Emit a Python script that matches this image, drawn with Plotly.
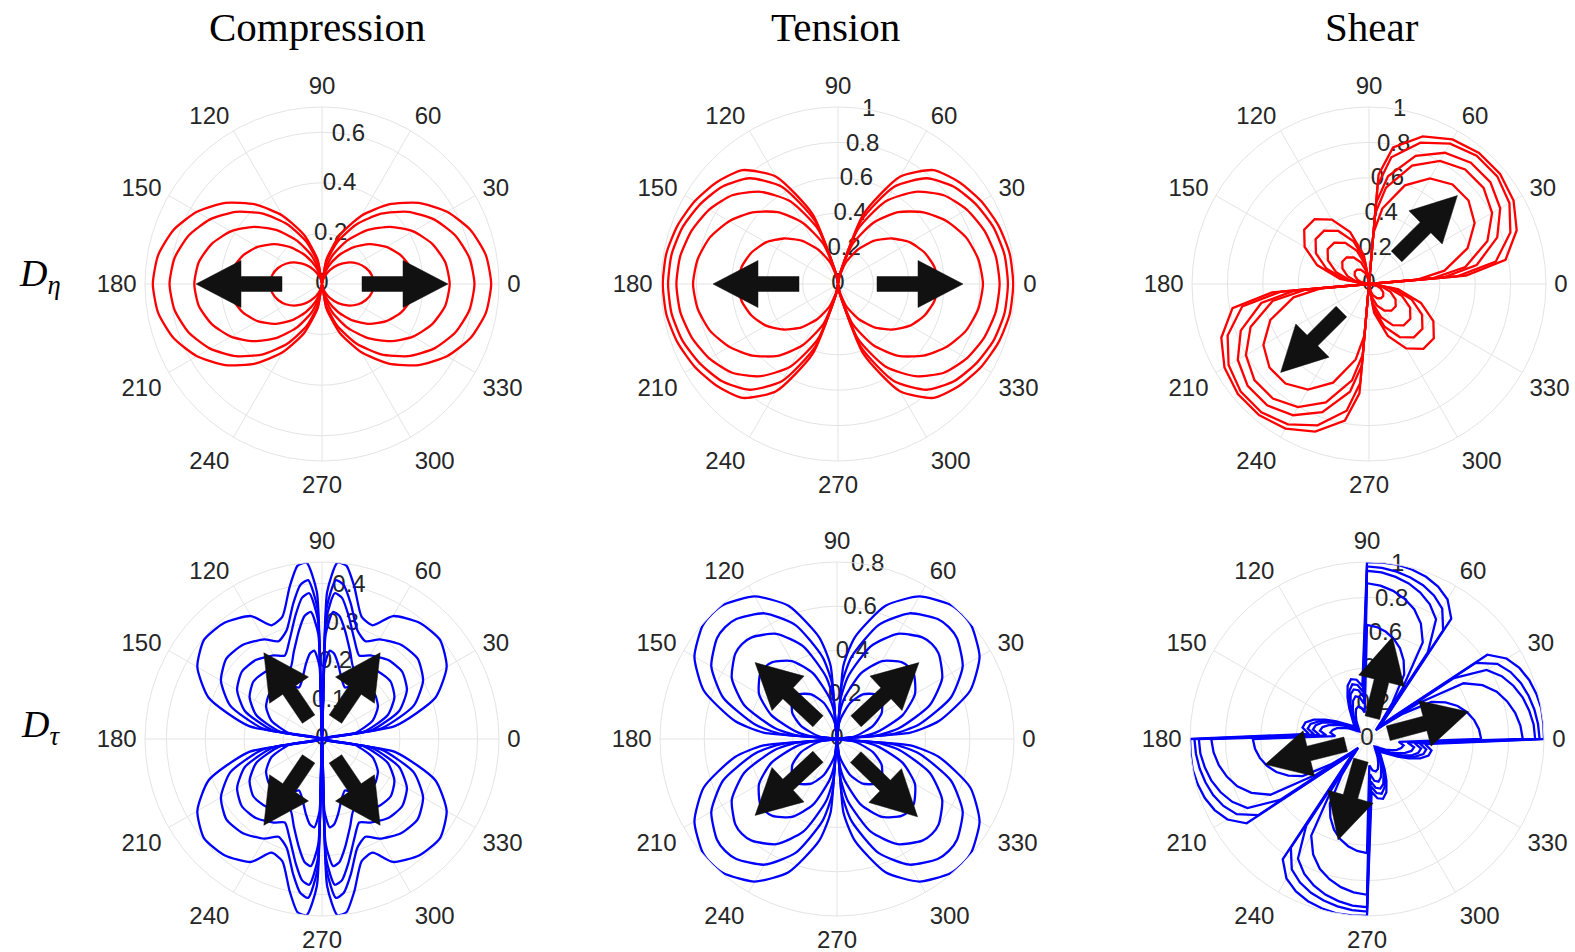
import math
import plotly.graph_objects as go

# ---------------- text ----------------
COL_TITLES = ["Compression", "Tension", "Shear"]
ROW_LABELS = ["<i>D</i><sub><i>η</i></sub>", "<i>D</i><sub><i>τ</i></sub>"]
ANG_TICKS = [0, 30, 60, 90, 120, 150, 180, 210, 240, 270, 300, 330]

# ---------------- data: angles (deg) ----------------
THETA_A = [0, 10, 20, 30, 40, 50, 60, 70, 80, 90, 100, 110, 120, 130, 140, 150, 160, 170, 180,
           190, 200, 210, 220, 230, 240, 250, 260, 270, 280, 290, 300, 310, 320, 330, 340, 350, 360]
THETA_B = THETA_A
THETA_C = [0, 5, 10, 20, 30, 40, 50, 60, 70, 80, 85, 90, 100, 110, 120, 130, 140, 150, 160, 170, 180,
           185, 190, 200, 210, 220, 230, 240, 250, 260, 265, 270, 280, 290, 300, 310, 320, 330, 340, 350, 360]
THETA_D = [0, 10, 20, 30, 40, 50, 60, 66, 72, 78, 82, 85, 88, 90,
           92, 95, 98, 102, 108, 114, 120, 130, 140, 150, 160, 170, 180,
           190, 200, 210, 220, 230, 240, 246, 252, 258, 262, 265, 268, 270,
           272, 275, 278, 282, 288, 294, 300, 310, 320, 330, 340, 350, 360]
THETA_E = [0, 5, 10, 20, 30, 40, 45, 50, 60, 70, 80, 85, 90,
           95, 100, 110, 120, 130, 135, 140, 150, 160, 170, 175, 180,
           185, 190, 200, 210, 220, 225, 230, 240, 250, 260, 265, 270,
           275, 280, 290, 300, 310, 315, 320, 330, 340, 350, 355, 360]
THETA_F = [0, 5, 10, 15, 20, 25, 30, 35, 40, 45, 50, 55, 60, 65, 70, 75, 80, 85, 90,
           95, 100, 105, 110, 115, 120, 125, 130, 135, 140, 145, 150, 155, 160, 165, 170, 175, 180,
           185, 190, 195, 200, 205, 210, 215, 220, 225, 230, 235, 240, 245, 250, 255, 260, 265, 270,
           275, 280, 285, 290, 295, 300, 305, 310, 315, 320, 325, 330, 335, 340, 345, 350, 355, 360]

# ---------------- data: Compression D_eta ----------------
A1 = [0.205, 0.200, 0.185, 0.162, 0.132, 0.099, 0.065, 0.035, 0.011, 0, 0.011, 0.035, 0.065, 0.099, 0.132, 0.162, 0.185, 0.200, 0.205,
      0.200, 0.185, 0.162, 0.132, 0.099, 0.065, 0.035, 0.011, 0, 0.011, 0.035, 0.065, 0.099, 0.132, 0.162, 0.185, 0.200, 0.205]
A2 = [0.365, 0.357, 0.332, 0.294, 0.245, 0.188, 0.129, 0.073, 0.026, 0, 0.026, 0.073, 0.129, 0.188, 0.245, 0.294, 0.332, 0.357, 0.365,
      0.357, 0.332, 0.294, 0.245, 0.188, 0.129, 0.073, 0.026, 0, 0.026, 0.073, 0.129, 0.188, 0.245, 0.294, 0.332, 0.357, 0.365]
A3 = [0.505, 0.495, 0.464, 0.416, 0.352, 0.278, 0.198, 0.119, 0.047, 0, 0.047, 0.119, 0.198, 0.278, 0.352, 0.416, 0.464, 0.495, 0.505,
      0.495, 0.464, 0.416, 0.352, 0.278, 0.198, 0.119, 0.047, 0, 0.047, 0.119, 0.198, 0.278, 0.352, 0.416, 0.464, 0.495, 0.505]
A4 = [0.603, 0.592, 0.561, 0.511, 0.444, 0.363, 0.272, 0.176, 0.080, 0, 0.080, 0.176, 0.272, 0.363, 0.444, 0.511, 0.561, 0.592, 0.603,
      0.592, 0.561, 0.511, 0.444, 0.363, 0.272, 0.176, 0.080, 0, 0.080, 0.176, 0.272, 0.363, 0.444, 0.511, 0.561, 0.592, 0.603]
A5 = [0.669, 0.658, 0.625, 0.571, 0.499, 0.411, 0.312, 0.206, 0.097, 0, 0.097, 0.206, 0.312, 0.411, 0.499, 0.571, 0.625, 0.658, 0.669,
      0.658, 0.625, 0.571, 0.499, 0.411, 0.312, 0.206, 0.097, 0, 0.097, 0.206, 0.312, 0.411, 0.499, 0.571, 0.625, 0.658, 0.669]

# ---------------- data: Tension D_eta ----------------
B1 = [0.565, 0.553, 0.52, 0.47, 0.40, 0.32, 0.225, 0.13, 0.035, 0, 0.035, 0.13, 0.225, 0.32, 0.40, 0.47, 0.52, 0.553, 0.565,
      0.553, 0.52, 0.47, 0.40, 0.32, 0.225, 0.13, 0.035, 0, 0.035, 0.13, 0.225, 0.32, 0.40, 0.47, 0.52, 0.553, 0.565]
B2 = [0.819, 0.805, 0.77, 0.71, 0.63, 0.53, 0.40, 0.24, 0.05, 0, 0.05, 0.24, 0.40, 0.53, 0.63, 0.71, 0.77, 0.805, 0.819,
      0.805, 0.77, 0.71, 0.63, 0.53, 0.40, 0.24, 0.05, 0, 0.05, 0.24, 0.40, 0.53, 0.63, 0.71, 0.77, 0.805, 0.819]
B3 = [0.913, 0.905, 0.88, 0.84, 0.78, 0.68, 0.54, 0.33, 0.05, 0, 0.05, 0.33, 0.54, 0.68, 0.78, 0.84, 0.88, 0.905, 0.913,
      0.905, 0.88, 0.84, 0.78, 0.68, 0.54, 0.33, 0.05, 0, 0.05, 0.33, 0.54, 0.68, 0.78, 0.84, 0.88, 0.905, 0.913]
B4 = [0.96, 0.955, 0.935, 0.90, 0.855, 0.78, 0.635, 0.38, 0.05, 0, 0.05, 0.38, 0.635, 0.78, 0.855, 0.90, 0.935, 0.955, 0.96,
      0.955, 0.935, 0.90, 0.855, 0.78, 0.635, 0.38, 0.05, 0, 0.05, 0.38, 0.635, 0.78, 0.855, 0.90, 0.935, 0.955, 0.96]
B5 = [0.99, 0.985, 0.965, 0.935, 0.895, 0.84, 0.70, 0.42, 0.05, 0, 0.05, 0.42, 0.70, 0.84, 0.895, 0.935, 0.965, 0.985, 0.99,
      0.985, 0.965, 0.935, 0.895, 0.84, 0.70, 0.42, 0.05, 0, 0.05, 0.42, 0.70, 0.84, 0.895, 0.935, 0.965, 0.985, 0.99]

# ---------------- data: Shear D_eta ----------------
C1 = [0, 0.27, 0.433, 0.593, 0.689, 0.734, 0.734, 0.689, 0.593, 0.433, 0.29, 0,
      0.037, 0.069, 0.093, 0.105, 0.105, 0.093, 0.069, 0.037, 0,
      0.27, 0.433, 0.593, 0.689, 0.734, 0.734, 0.689, 0.593, 0.433, 0.29, 0,
      0.037, 0.069, 0.093, 0.105, 0.105, 0.093, 0.069, 0.037, 0]
C2 = [0, 0.36, 0.553, 0.712, 0.803, 0.845, 0.845, 0.803, 0.712, 0.553, 0.40, 0,
      0.068, 0.129, 0.173, 0.197, 0.197, 0.173, 0.129, 0.068, 0,
      0.36, 0.553, 0.712, 0.803, 0.845, 0.845, 0.803, 0.712, 0.553, 0.40, 0,
      0.068, 0.129, 0.173, 0.197, 0.197, 0.173, 0.129, 0.068, 0]
C3 = [0, 0.42, 0.618, 0.771, 0.856, 0.895, 0.895, 0.856, 0.771, 0.618, 0.46, 0,
      0.106, 0.199, 0.268, 0.305, 0.305, 0.268, 0.199, 0.106, 0,
      0.42, 0.618, 0.771, 0.856, 0.895, 0.895, 0.856, 0.771, 0.618, 0.46, 0,
      0.106, 0.199, 0.268, 0.305, 0.305, 0.268, 0.199, 0.106, 0]
C4 = [0, 0.50, 0.727, 0.850, 0.916, 0.946, 0.946, 0.916, 0.850, 0.727, 0.56, 0,
      0.137, 0.257, 0.346, 0.394, 0.394, 0.346, 0.257, 0.137, 0,
      0.50, 0.727, 0.850, 0.916, 0.946, 0.946, 0.916, 0.850, 0.727, 0.56, 0,
      0.137, 0.257, 0.346, 0.394, 0.394, 0.346, 0.257, 0.137, 0]
C5 = [0, 0.55, 0.783, 0.888, 0.943, 0.967, 0.967, 0.943, 0.888, 0.783, 0.62, 0,
      0.166, 0.312, 0.420, 0.478, 0.478, 0.420, 0.312, 0.166, 0,
      0.55, 0.783, 0.888, 0.943, 0.967, 0.967, 0.943, 0.888, 0.783, 0.62, 0,
      0.166, 0.312, 0.420, 0.478, 0.478, 0.420, 0.312, 0.166, 0]

# ---------------- data: Compression D_tau ----------------
D1 = [0, 0.085, 0.139, 0.166, 0.178, 0.175, 0.16, 0.145, 0.163, 0.198, 0.222, 0.228, 0.187, 0,
      0.187, 0.228, 0.222, 0.198, 0.163, 0.145, 0.16, 0.175, 0.178, 0.166, 0.139, 0.085, 0,
      0.085, 0.139, 0.166, 0.178, 0.175, 0.16, 0.145, 0.163, 0.198, 0.222, 0.228, 0.187, 0,
      0.187, 0.228, 0.222, 0.198, 0.163, 0.145, 0.16, 0.175, 0.178, 0.166, 0.139, 0.085, 0]
D2 = [0, 0.110, 0.180, 0.215, 0.230, 0.226, 0.212, 0.20, 0.235, 0.285, 0.32, 0.328, 0.269, 0,
      0.269, 0.328, 0.32, 0.285, 0.235, 0.20, 0.212, 0.226, 0.230, 0.215, 0.180, 0.110, 0,
      0.110, 0.180, 0.215, 0.230, 0.226, 0.212, 0.20, 0.235, 0.285, 0.32, 0.328, 0.269, 0,
      0.269, 0.328, 0.32, 0.285, 0.235, 0.20, 0.212, 0.226, 0.230, 0.215, 0.180, 0.110, 0]
D3 = [0, 0.129, 0.211, 0.252, 0.269, 0.265, 0.248, 0.235, 0.269, 0.326, 0.367, 0.376, 0.308, 0,
      0.308, 0.376, 0.367, 0.326, 0.269, 0.235, 0.248, 0.265, 0.269, 0.252, 0.211, 0.129, 0,
      0.129, 0.211, 0.252, 0.269, 0.265, 0.248, 0.235, 0.269, 0.326, 0.367, 0.376, 0.308, 0,
      0.308, 0.376, 0.367, 0.326, 0.269, 0.235, 0.248, 0.265, 0.269, 0.252, 0.211, 0.129, 0]
D4 = [0, 0.154, 0.251, 0.30, 0.321, 0.316, 0.296, 0.275, 0.294, 0.356, 0.40, 0.41, 0.336, 0,
      0.336, 0.41, 0.40, 0.356, 0.294, 0.275, 0.296, 0.316, 0.321, 0.30, 0.251, 0.154, 0,
      0.154, 0.251, 0.30, 0.321, 0.316, 0.296, 0.275, 0.294, 0.356, 0.40, 0.41, 0.336, 0,
      0.336, 0.41, 0.40, 0.356, 0.294, 0.275, 0.296, 0.316, 0.321, 0.30, 0.251, 0.154, 0]
D5 = [0, 0.19, 0.31, 0.37, 0.396, 0.39, 0.365, 0.32, 0.33, 0.40, 0.45, 0.455, 0.378, 0,
      0.378, 0.455, 0.45, 0.40, 0.33, 0.32, 0.365, 0.39, 0.396, 0.37, 0.31, 0.19, 0,
      0.19, 0.31, 0.37, 0.396, 0.39, 0.365, 0.32, 0.33, 0.40, 0.45, 0.455, 0.378, 0,
      0.378, 0.455, 0.45, 0.40, 0.33, 0.32, 0.365, 0.39, 0.396, 0.37, 0.31, 0.19, 0]

# ---------------- data: Tension D_tau ----------------
E1 = [0, 0.047, 0.092, 0.173, 0.233, 0.265, 0.269, 0.265, 0.233, 0.173, 0.092, 0.047, 0,
      0.047, 0.092, 0.173, 0.233, 0.265, 0.269, 0.265, 0.233, 0.173, 0.092, 0.047, 0,
      0.047, 0.092, 0.173, 0.233, 0.265, 0.269, 0.265, 0.233, 0.173, 0.092, 0.047, 0,
      0.047, 0.092, 0.173, 0.233, 0.265, 0.269, 0.265, 0.233, 0.173, 0.092, 0.047, 0]
E2 = [0, 0.104, 0.185, 0.316, 0.407, 0.454, 0.46, 0.454, 0.407, 0.316, 0.185, 0.104, 0,
      0.104, 0.185, 0.316, 0.407, 0.454, 0.46, 0.454, 0.407, 0.316, 0.185, 0.104, 0,
      0.104, 0.185, 0.316, 0.407, 0.454, 0.46, 0.454, 0.407, 0.316, 0.185, 0.104, 0,
      0.104, 0.185, 0.316, 0.407, 0.454, 0.46, 0.454, 0.407, 0.316, 0.185, 0.104, 0]
E3 = [0, 0.178, 0.286, 0.446, 0.549, 0.600, 0.607, 0.600, 0.549, 0.446, 0.286, 0.178, 0,
      0.178, 0.286, 0.446, 0.549, 0.600, 0.607, 0.600, 0.549, 0.446, 0.286, 0.178, 0,
      0.178, 0.286, 0.446, 0.549, 0.600, 0.607, 0.600, 0.549, 0.446, 0.286, 0.178, 0,
      0.178, 0.286, 0.446, 0.549, 0.600, 0.607, 0.600, 0.549, 0.446, 0.286, 0.178, 0]
E4 = [0, 0.250, 0.376, 0.548, 0.656, 0.708, 0.715, 0.708, 0.656, 0.548, 0.376, 0.250, 0,
      0.250, 0.376, 0.548, 0.656, 0.708, 0.715, 0.708, 0.656, 0.548, 0.376, 0.250, 0,
      0.250, 0.376, 0.548, 0.656, 0.708, 0.715, 0.708, 0.656, 0.548, 0.376, 0.250, 0,
      0.250, 0.376, 0.548, 0.656, 0.708, 0.715, 0.708, 0.656, 0.548, 0.376, 0.250, 0]
E5 = [0, 0.333, 0.468, 0.641, 0.744, 0.794, 0.80, 0.794, 0.744, 0.641, 0.468, 0.333, 0,
      0.333, 0.468, 0.641, 0.744, 0.794, 0.80, 0.794, 0.744, 0.641, 0.468, 0.333, 0,
      0.333, 0.468, 0.641, 0.744, 0.794, 0.80, 0.794, 0.744, 0.641, 0.468, 0.333, 0,
      0.333, 0.468, 0.641, 0.744, 0.794, 0.80, 0.794, 0.744, 0.641, 0.468, 0.333, 0]

# ---------------- data: Shear D_tau ----------------
F1 = [0.645, 0.635, 0.615, 0.585, 0.545, 0.49, 0.42, 0.25, 0.12, 0.07, 0.12, 0.25, 0.42, 0.49, 0.545, 0.585, 0.615, 0.635, 0.645,
      0.15, 0.18, 0.19, 0.18, 0.15, 0.12, 0.09, 0.07, 0.06, 0.07, 0.09, 0.12, 0.15, 0.18, 0.2, 0.21, 0.18, 0.645,
      0.635, 0.615, 0.585, 0.545, 0.49, 0.42, 0.25, 0.12, 0.07, 0.12, 0.25, 0.42, 0.49, 0.545, 0.585, 0.615, 0.635, 0.645,
      0.15, 0.18, 0.19, 0.18, 0.15, 0.12, 0.09, 0.07, 0.06, 0.07, 0.09, 0.12, 0.15, 0.18, 0.2, 0.21, 0.18, 0.645]
F2 = [0.88, 0.87, 0.85, 0.82, 0.78, 0.72, 0.63, 0.35, 0.14, 0.08, 0.14, 0.35, 0.63, 0.72, 0.78, 0.82, 0.85, 0.87, 0.88,
      0.2, 0.24, 0.25, 0.23, 0.19, 0.15, 0.11, 0.09, 0.07, 0.09, 0.11, 0.15, 0.19, 0.23, 0.26, 0.27, 0.23, 0.88,
      0.87, 0.85, 0.82, 0.78, 0.72, 0.63, 0.35, 0.14, 0.08, 0.14, 0.35, 0.63, 0.72, 0.78, 0.82, 0.85, 0.87, 0.88,
      0.2, 0.24, 0.25, 0.23, 0.19, 0.15, 0.11, 0.09, 0.07, 0.09, 0.11, 0.15, 0.19, 0.23, 0.26, 0.27, 0.23, 0.88]
F3 = [0.95, 0.945, 0.93, 0.91, 0.88, 0.84, 0.78, 0.6, 0.16, 0.09, 0.16, 0.6, 0.78, 0.84, 0.88, 0.91, 0.93, 0.945, 0.95,
      0.24, 0.28, 0.29, 0.27, 0.22, 0.17, 0.13, 0.1, 0.08, 0.1, 0.13, 0.17, 0.22, 0.27, 0.30, 0.31, 0.27, 0.95,
      0.945, 0.93, 0.91, 0.88, 0.84, 0.78, 0.6, 0.16, 0.09, 0.16, 0.6, 0.78, 0.84, 0.88, 0.91, 0.93, 0.945, 0.95,
      0.24, 0.28, 0.29, 0.27, 0.22, 0.17, 0.13, 0.1, 0.08, 0.1, 0.13, 0.17, 0.22, 0.27, 0.30, 0.31, 0.27, 0.95]
F4 = [0.975, 0.97, 0.96, 0.945, 0.925, 0.895, 0.85, 0.75, 0.18, 0.1, 0.18, 0.75, 0.85, 0.895, 0.925, 0.945, 0.96, 0.97, 0.975,
      0.27, 0.31, 0.32, 0.29, 0.24, 0.18, 0.14, 0.11, 0.09, 0.11, 0.14, 0.18, 0.24, 0.29, 0.33, 0.34, 0.30, 0.975,
      0.97, 0.96, 0.945, 0.925, 0.895, 0.85, 0.75, 0.18, 0.1, 0.18, 0.75, 0.85, 0.895, 0.925, 0.945, 0.96, 0.97, 0.975,
      0.27, 0.31, 0.32, 0.29, 0.24, 0.18, 0.14, 0.11, 0.09, 0.11, 0.14, 0.18, 0.24, 0.29, 0.33, 0.34, 0.30, 0.975]
F5 = [1.0, 1.0, 1.0, 0.99, 0.975, 0.95, 0.91, 0.83, 0.2, 0.1, 0.2, 0.83, 0.91, 0.95, 0.975, 0.99, 1.0, 1.0, 1.0,
      0.30, 0.34, 0.35, 0.32, 0.26, 0.2, 0.15, 0.12, 0.1, 0.12, 0.15, 0.2, 0.26, 0.32, 0.36, 0.37, 0.33, 1.0,
      1.0, 1.0, 0.99, 0.975, 0.95, 0.91, 0.83, 0.2, 0.1, 0.2, 0.83, 0.91, 0.95, 0.975, 0.99, 1.0, 1.0, 1.0,
      0.30, 0.34, 0.35, 0.32, 0.26, 0.2, 0.15, 0.12, 0.1, 0.12, 0.15, 0.2, 0.26, 0.32, 0.36, 0.37, 0.33, 1.0]

# radial ticks per panel
RTICKS_A = [0, 0.2, 0.4, 0.6]
RTICKS_B = [0, 0.2, 0.4, 0.6, 0.8, 1]
RTICKS_C = [0, 0.2, 0.4, 0.6, 0.8, 1]
RTICKS_D = [0, 0.1, 0.2, 0.3, 0.4]
RTICKS_E = [0, 0.2, 0.4, 0.6, 0.8]
RTICKS_F = [0, 0.2, 0.4, 0.6, 0.8, 1]

# arrow directions (deg) per panel
ARROWS_A = [0, 180]
ARROWS_B = [0, 180]
ARROWS_C = [45, 225]
ARROWS_D = [56, 124, 236, 304]
ARROWS_E = [43, 137, 223, 316]
ARROWS_F = [76, 15, 194, 254]

# ---------------- layout / style ----------------
W, H = 1575, 952
RPX = 177  # polar radius in px
RED, BLUE = "#ff0000", "#0000ff"
GRID = "#e4e4e4"
TXT = "#262626"
SANS = "Liberation Sans, Arial, Helvetica, sans-serif"
SERIF = "Liberation Serif, Times New Roman, serif"
TICK_SIZE = 24

PANELS = [
    dict(cx=322, cy=284, rmax=0.70, theta=THETA_A, curves=[A1, A2, A3, A4, A5], color=RED,
         rticks=RTICKS_A, arrows=ARROWS_A, a_start=40, a_tip=126, shape="spline"),
    dict(cx=838, cy=284, rmax=1.0, theta=THETA_B, curves=[B1, B2, B3, B4, B5], color=RED,
         rticks=RTICKS_B, arrows=ARROWS_B, a_start=39, a_tip=125, shape="spline"),
    dict(cx=1369, cy=284, rmax=1.0, theta=THETA_C, curves=[C1, C2, C3, C4, C5], color=RED,
         rticks=RTICKS_C, arrows=ARROWS_C, a_start=39, a_tip=125, shape="linear"),
    dict(cx=322, cy=739, rmax=0.455, theta=THETA_D, curves=[D1, D2, D3, D4, D5], color=BLUE,
         rticks=RTICKS_D, arrows=ARROWS_D, a_start=24, a_tip=104, shape="spline"),
    dict(cx=837, cy=739, rmax=0.8, theta=THETA_E, curves=[E1, E2, E3, E4, E5], color=BLUE,
         rticks=RTICKS_E, arrows=ARROWS_E, a_start=26, a_tip=112, shape="spline"),
    dict(cx=1367, cy=739, rmax=1.0, theta=THETA_F, curves=[F1, F2, F3, F4, F5], color=BLUE,
         rticks=RTICKS_F, arrows=ARROWS_F, a_start=22, a_tip=105, shape="linear"),
]
HEAD_LEN, HEAD_HALF, SHAFT_HALF = 45, 23.5, 7.5


def fmt(v):
    return "0" if v == 0 else ("%g" % v)


def arrow_poly(angle, start, tip, scale):
    a = math.radians(angle)
    ux, uy = math.cos(a), math.sin(a)
    nx, ny = -uy, ux
    base = tip - HEAD_LEN
    pts = [(start, SHAFT_HALF), (base, SHAFT_HALF), (base, HEAD_HALF), (tip, 0),
           (base, -HEAD_HALF), (base, -SHAFT_HALF), (start, -SHAFT_HALF), (start, SHAFT_HALF)]
    rr, tt = [], []
    for along, across in pts:
        x = (along * ux + across * nx) * scale
        y = (along * uy + across * ny) * scale
        rr.append(math.hypot(x, y))
        tt.append(math.degrees(math.atan2(y, x)))
    return rr, tt


fig = go.Figure()
layout_polars = {}
for i, p in enumerate(PANELS):
    sp = "polar" if i == 0 else "polar%d" % (i + 1)
    scale = p["rmax"] / RPX
    # radial tick labels (drawn under the curves)
    fig.add_trace(go.Scatterpolar(
        r=p["rticks"], theta=[80] * len(p["rticks"]), mode="text",
        text=[fmt(v) for v in p["rticks"]], textposition="middle center",
        textfont=dict(family=SANS, size=TICK_SIZE, color=TXT),
        cliponaxis=False, hoverinfo="skip", subplot=sp, showlegend=False))
    for r in p["curves"]:
        assert len(r) == len(p["theta"])
        fig.add_trace(go.Scatterpolar(
            r=r, theta=p["theta"], mode="lines",
            line=dict(color=p["color"], width=2.3, shape=p["shape"], smoothing=0.6),
            hoverinfo="skip", subplot=sp, showlegend=False))
    for ang in p["arrows"]:
        rr, tt = arrow_poly(ang, p["a_start"], p["a_tip"], scale)
        fig.add_trace(go.Scatterpolar(
            r=rr, theta=tt, mode="lines", fill="toself", fillcolor="#111111",
            line=dict(color="#111111", width=0.5), hoverinfo="skip",
            subplot=sp, showlegend=False))
    layout_polars[sp] = dict(
        domain=dict(x=[(p["cx"] - RPX) / W, (p["cx"] + RPX) / W],
                    y=[1 - (p["cy"] + RPX) / H, 1 - (p["cy"] - RPX) / H]),
        bgcolor="white",
        angularaxis=dict(rotation=0, direction="counterclockwise", tickmode="array",
                         tickvals=ANG_TICKS, ticktext=[str(a) for a in ANG_TICKS],
                         tickfont=dict(family=SANS, size=TICK_SIZE, color=TXT),
                         showline=True, linecolor=GRID, linewidth=1,
                         showgrid=True, gridcolor=GRID, gridwidth=1,
                         ticks="outside", ticklen=3, tickcolor="rgba(0,0,0,0)"),
        radialaxis=dict(range=[0, p["rmax"]], tickmode="array", tickvals=p["rticks"][1:],
                        showticklabels=False, ticks="", showline=False,
                        showgrid=True, gridcolor=GRID, gridwidth=1),
    )

annotations = []
for x, t in zip([317, 835, 1372], COL_TITLES):
    annotations.append(dict(text=t, x=x / W, y=1 - 27 / H, xref="paper", yref="paper",
                            xanchor="center", yanchor="middle", showarrow=False,
                            font=dict(family=SERIF, size=41, color="black")))
for y, t in zip([276, 727], ROW_LABELS):
    annotations.append(dict(text=t, x=40 / W, y=1 - y / H, xref="paper", yref="paper",
                            xanchor="center", yanchor="middle", showarrow=False,
                            font=dict(family=SERIF, size=38, color="black")))

fig.update_layout(width=W, height=H, margin=dict(l=0, r=0, t=0, b=0),
                  paper_bgcolor="white", plot_bgcolor="white", showlegend=False,
                  annotations=annotations, **layout_polars)
fig.write_html("out.html")
